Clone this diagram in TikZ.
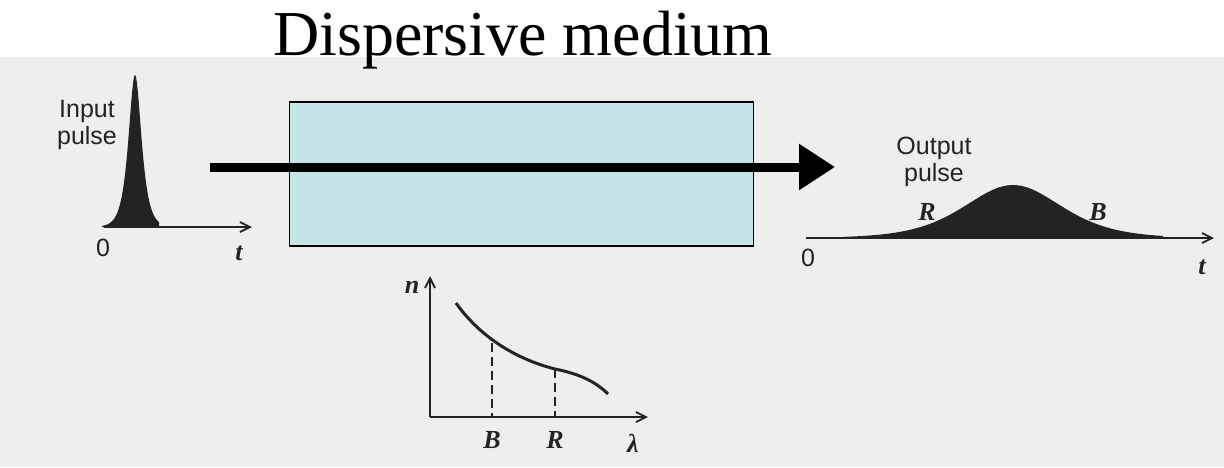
\documentclass[tikz,border=0pt]{standalone}
\usepackage{fontspec}
\setmainfont{Liberation Serif}
\setsansfont{Liberation Sans}
\usetikzlibrary{arrows.meta}
\definecolor{scan}{RGB}{238,238,236}
\definecolor{medium}{RGB}{197,228,231}
\definecolor{ink}{RGB}{35,35,35}
\tikzset{
  mediumbox/.style={draw=black, line width=1.2pt, fill=medium, minimum width=464pt, minimum height=144pt, inner sep=0pt},
  axisline/.style={draw=ink, line width=2pt, -{Straight Barb[length=10pt,width=10pt,line width=1.8pt]}},
  bigarrow/.style={draw=black, line width=9pt, -{Triangle[length=36pt,width=44pt]}},
  pulsefill/.style={fill=ink},
  sanslabel/.style={font=\sffamily\fontsize{25}{27}\selectfont, text=ink, align=center, inner sep=0pt},
  itlabel/.style={font=\bfseries\itshape\fontsize{26}{28}\selectfont, text=ink, inner sep=0pt},
  title/.style={font=\fontsize{64}{70}\selectfont, inner sep=0pt},
  curve/.style={draw=ink, line width=3pt},
  guide/.style={draw=ink, line width=1.8pt, dash pattern=on 9pt off 5pt}
}
\begin{document}
\begin{tikzpicture}[x=1pt,y=-1pt]
\useasboundingbox (0,0) rectangle (1224,467);
\fill[white] (0,0) rectangle (1224,467);
\fill[scan] (0,57) rectangle (1224,467);
% title
\node[title, anchor=base] (ttl) at (523,55) {Dispersive medium};
% input pulse
\coordinate (in0) at (104,227);
\coordinate (inT) at (252,227);
\fill[pulsefill] (102,227) -- plot[domain=-33:24, samples=120] ({135+\x},{227-152/cosh(\x/5.8)}) -- (159,227) -- cycle;
\draw[axisline] (in0) -- (inT);
\node[sanslabel] (inlab) at (87,125) {Input\\pulse};
\node[sanslabel] (inzero) at (103,248) {0};
\node[itlabel] (int) at (239,253) {t};
% medium
\node[mediumbox] (box) at (521.5,174) {};
% big arrow
\coordinate (aS) at (210,167);
\coordinate (aE) at (835,167);
\draw[bigarrow] (aS) -- (aE);
% output pulse
\coordinate (out0) at (806,238);
\coordinate (outT) at (1214,238);
\fill[pulsefill] (843,238) -- plot[domain=-170:150, samples=160] ({1013+\x},{238-53/(cosh(\x/65)^2)}) -- (1163,238) -- cycle;
\draw[axisline] (out0) -- (outT);
\node[sanslabel] (outlab) at (934,162) {Output\\pulse};
\node[itlabel] (oR) at (927,212) {R};
\node[itlabel] (oB) at (1098,212) {B};
\node[sanslabel] (outzero) at (808,258) {0};
\node[itlabel] (outt) at (1202,267) {t};
% n(lambda) graph
\coordinate (org) at (430,417);
\coordinate (ny) at (430,276);
\coordinate (lx) at (648,417);
\draw[axisline] (org) -- (ny);
\draw[axisline] (org) -- (lx);
\coordinate (pB) at (492,343);
\coordinate (pR) at (555,369);
\coordinate (bB) at (492,417);
\coordinate (bR) at (555,417);
\draw[curve] (456,303) .. controls (478,334) and (512,358) .. (pR) .. controls (580,374) and (596,382) .. (608,394);
\draw[guide] (pB) -- (bB);
\draw[guide] (pR) -- (bR);
\node[itlabel] (nlab) at (412,287) {n};
\node[itlabel] (gB) at (492,440) {B};
\node[itlabel] (gR) at (555,440) {R};
\node[itlabel] (gl) at (633,443) {λ};
\end{tikzpicture}
\end{document}
